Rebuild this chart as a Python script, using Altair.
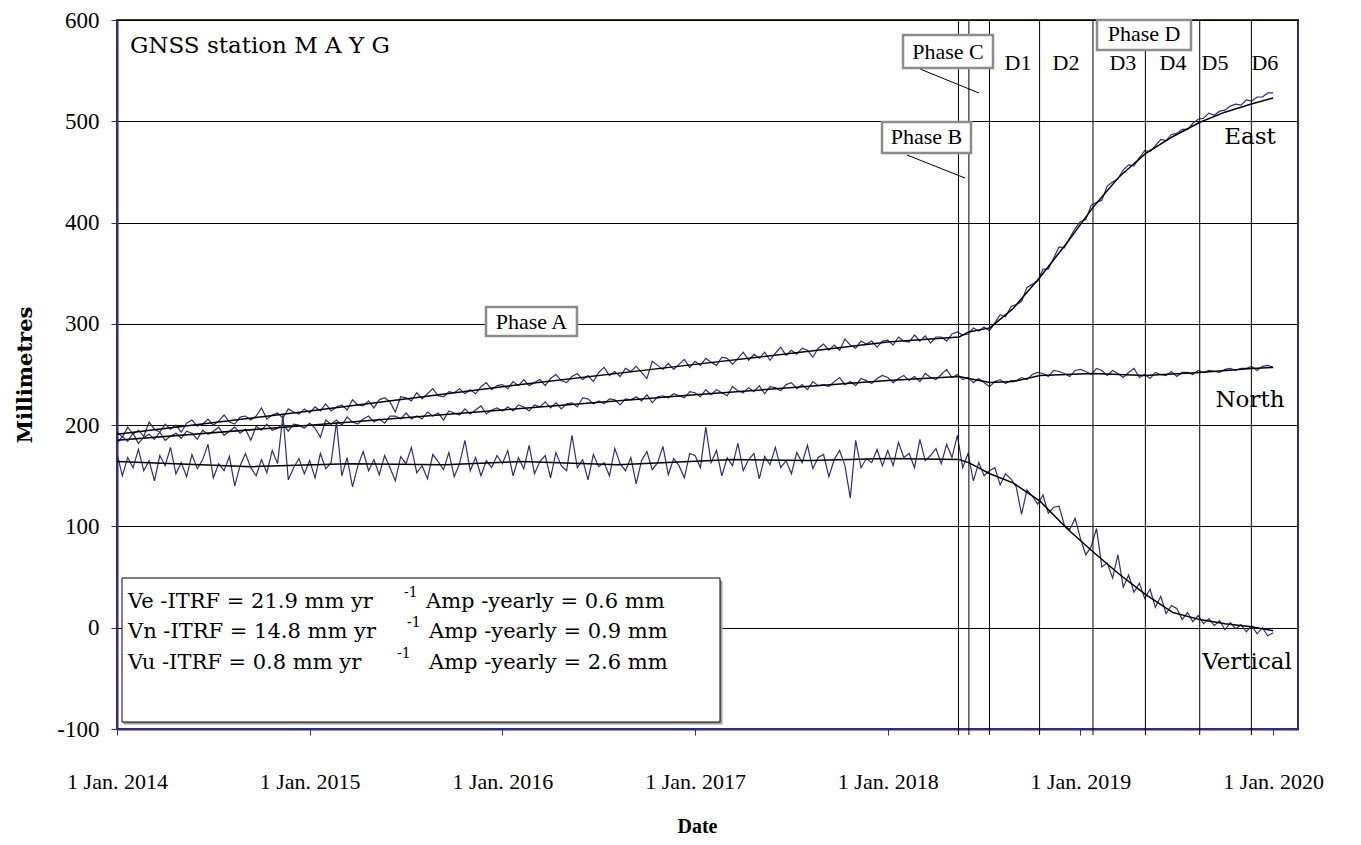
import altair as alt
import pandas as pd

# ---------------- data ----------------
# observation epochs: every 1/36 year from 1 Jan 2014 to 1 Jan 2020
epochs = [round(2014 + i / 36, 4) for i in range(217)]

east_2014 = [194,188,198,191,195,189,203,196,193,201,196,200,193,202,205,199,201,206,200,204,
             210,203,201,208,209,205,209,217,206,210,212,207,216,213,211,216]
east_2015 = [212,218,214,221,214,218,220,215,225,220,219,224,217,225,227,223,213,228,227,224,
             232,226,231,236,229,228,233,232,236,231,235,231,238,242,235,239]
east_2016 = [240,236,243,239,245,239,242,245,239,246,250,244,242,248,251,245,249,243,252,257,
             249,253,248,256,253,258,252,246,263,259,255,261,255,260,265,257]
east_2017 = [263,259,266,262,259,267,266,260,266,272,264,270,266,272,264,271,277,269,274,270,
             276,274,267,276,280,274,279,274,285,279,276,283,280,283,277,283]
east_2018 = [284,279,287,283,282,289,283,288,281,287,287,283,290,292,289,290,296,293,297,293,
             301,309,307,317,319,322,336,339,342,354,354,365,376,375,385,394]
east_2019 = [401,403,417,420,422,436,440,443,452,457,456,464,471,470,476,482,481,487,488,492,
             492,498,502,503,508,506,510,511,515,517,516,521,520,524,524,528,528]

north_2014 = [182,189,184,192,182,188,191,186,193,185,189,192,187,194,192,186,195,191,194,198,
              190,194,198,192,196,185,199,195,201,195,197,201,194,201,200,197]
north_2015 = [202,197,188,205,201,205,200,208,203,201,206,209,203,206,202,209,209,206,212,206,
              209,206,213,209,212,205,214,212,210,216,211,215,219,211,215,217]
north_2016 = [214,218,214,220,218,214,220,218,223,217,222,216,221,222,218,227,226,221,224,221,
              226,225,220,226,225,228,224,230,222,228,229,227,231,229,227,233]
north_2017 = [232,228,235,230,235,232,229,238,234,232,237,233,239,231,238,237,234,240,242,236,
              240,235,243,239,240,238,243,247,240,243,239,246,244,241,246,249]
north_2018 = [247,242,246,249,244,248,243,251,247,245,250,255,247,250,245,247,242,246,242,238,
              243,245,241,244,244,247,245,250,252,251,248,254,253,251,248,254]
north_2019 = [255,253,250,256,254,249,254,251,247,252,256,247,250,246,252,250,249,253,248,252,
              252,250,254,252,254,253,252,255,256,254,256,256,258,254,258,259,257]

vert_2014 = [172,150,168,158,176,155,165,145,170,160,178,152,163,149,171,157,166,181,148,162,
             155,169,140,160,172,158,150,166,153,175,162,210,146,158,167,152]
vert_2015 = [165,148,172,157,163,203,150,168,139,160,174,155,166,151,170,158,145,169,162,178,
             153,160,147,171,164,156,173,149,162,185,155,168,150,165,158,170]
vert_2016 = [162,175,150,168,157,180,152,164,170,148,173,160,155,190,158,166,146,171,159,163,
             150,177,162,155,168,142,165,174,156,163,179,151,167,160,148,172]
vert_2017 = [170,158,198,163,175,150,168,160,182,155,166,172,147,169,161,178,158,165,152,173,
             163,180,157,168,171,149,166,175,160,128,185,158,167,163,176,160]
vert_2018 = [175,160,183,168,172,158,186,165,170,177,162,181,168,190,158,172,145,163,150,155,
             158,141,152,147,139,112,136,130,122,131,113,119,120,101,97,108]
vert_2019 = [88,72,80,98,60,64,49,72,40,52,35,44,29,38,20,31,14,22,19,8,
             15,6,12,4,9,2,7,-2,5,-1,3,-4,2,-6,0,-8,-5]

east_obs = east_2014 + east_2015 + east_2016 + east_2017 + east_2018 + east_2019
north_obs = north_2014 + north_2015 + north_2016 + north_2017 + north_2018 + north_2019
vert_obs = vert_2014 + vert_2015 + vert_2016 + vert_2017 + vert_2018 + vert_2019

# model (trajectory) curves, read at knots
east_model_t = [2014.0, 2015.0, 2016.0, 2017.0, 2018.0, 2018.37, 2018.42, 2018.53, 2018.65,
                2018.79, 2018.93, 2019.065, 2019.2, 2019.337, 2019.48, 2019.62, 2019.75,
                2019.887, 2020.0]
east_model = [191, 214, 238, 260, 282, 287, 292, 296, 315, 346, 380, 415, 445, 468, 485, 499,
              509, 517, 523]
north_model_t = [2014.0, 2015.0, 2016.0, 2017.0, 2018.0, 2018.37, 2018.42, 2018.53, 2018.65,
                 2018.79, 2019.065, 2019.337, 2019.62, 2019.887, 2020.0]
north_model = [185, 200, 215, 230, 244, 248, 246, 242, 243, 249, 251, 249, 252, 256, 257]
vert_model_t = [2014.0, 2014.3, 2014.7, 2015.2, 2015.7, 2016.1, 2016.6, 2017.2, 2017.6, 2018.0,
                2018.37, 2018.42, 2018.53, 2018.65, 2018.79, 2018.93, 2019.065, 2019.2,
                2019.337, 2019.48, 2019.62, 2019.75, 2019.887, 2020.0]
vert_model = [164, 162, 159, 162, 161, 164, 161, 166, 165, 167, 166, 163, 152, 143, 125, 98,
              75, 53, 33, 15, 8, 4, 1, -3]

# phase boundaries (vertical lines)
phase_lines = [2018.367, 2018.421, 2018.528, 2018.788, 2019.065, 2019.337, 2019.619, 2019.887]
d_labels = ["D1", "D2", "D3", "D4", "D5", "D6"]
d_label_t = [2018.676, 2018.925, 2019.22, 2019.48, 2019.698, 2019.957]

year_ticks = [2014, 2015, 2016, 2017, 2018, 2019, 2020]
mm_ticks = [-100, 0, 100, 200, 300, 400, 500, 600]

legend_left = ["Ve -ITRF = 21.9 mm yr", "Vn -ITRF = 14.8 mm yr", "Vu -ITRF =  0.8 mm yr"]
legend_right = ["Amp -yearly = 0.6 mm", "Amp -yearly = 0.9 mm", "Amp -yearly = 2.6 mm"]

# ---------------- tables ----------------
rows = []
for comp, vals in (("East", east_obs), ("North", north_obs), ("Vertical", vert_obs)):
    for t, v in zip(epochs, vals):
        rows.append({"t": t, "mm": v, "comp": comp})
obs = pd.DataFrame(rows)

mrows = []
for comp, ts, vals in (("East", east_model_t, east_model), ("North", north_model_t, north_model),
                       ("Vertical", vert_model_t, vert_model)):
    for t, v in zip(ts, vals):
        mrows.append({"t": t, "mm": v, "comp": comp})
model = pd.DataFrame(mrows)

# ---------------- styling ----------------
FONT = "Liberation Serif"
WIDE = "DejaVu Serif"
NAVY = "#2E2E7A"
W, H = 1181, 709
xs = alt.Scale(domain=[2014, 2020.129], nice=False, zero=False)
ys = alt.Scale(domain=[-100, 600], nice=False, zero=False)
dummy = pd.DataFrame({"a": [0]})

x_axis = alt.Axis(
    values=year_ticks, labelExpr="'1 Jan. ' + datum.value", title="Date", grid=False,
    labelFontSize=22, tickSize=6, labelPadding=36, titleFontSize=20, titlePadding=24,
    titleFontWeight="bold", labelFlush=False, labelOverlap=False, domainWidth=2,
    titleX=580, labelFont=FONT, titleFont=FONT)
y_axis = alt.Axis(
    values=mm_ticks, title="Millimetres", grid=True, gridColor="black", gridWidth=1,
    labelExpr="datum.value < 0 ? '-' + abs(datum.value) : '' + datum.value",
    labelFontSize=23, tickSize=6, labelPadding=12, titleFontSize=21,
    titleFontWeight="bold", titlePadding=21, labelFlush=False, domainWidth=2,
    labelFont=FONT, titleFont=WIDE)
X = alt.X("t:Q", scale=xs, axis=x_axis)
Y = alt.Y("mm:Q", scale=ys, axis=y_axis)

obs_line = alt.Chart(obs).mark_line(color=NAVY, strokeWidth=1.2).encode(
    x=X, y=Y, detail="comp:N")

model_line = alt.Chart(model).mark_line(color="black", strokeWidth=1.5).encode(
    x=X, y=Y, detail="comp:N")

rules = alt.Chart(pd.DataFrame({"t": phase_lines})).mark_rule(color="black", strokeWidth=1).encode(
    x=X, y=alt.value(0), y2=alt.value(H + 6))

dtext = alt.Chart(pd.DataFrame({"t": d_label_t, "label": d_labels})).mark_text(
    font=FONT, fontSize=22, color="black", align="center", baseline="middle").encode(
    x=X, y=alt.value(43), text="label:N")


def txt(s, x, y, size=22, align="left", font=FONT):
    return alt.Chart(dummy).mark_text(font=font, fontSize=size, color="black", align=align,
                                      baseline="middle").encode(
        x=alt.value(x), y=alt.value(y), text=alt.value(s))


def box(x1, y1, x2, y2, stroke="#8C8C8C", sw=2.5, fill="white"):
    return alt.Chart(dummy).mark_rect(fill=fill, stroke=stroke, strokeWidth=sw).encode(
        x=alt.value(x1), x2=alt.value(x2), y=alt.value(y1), y2=alt.value(y2))


def seg(x1, y1, x2, y2):
    return alt.Chart(dummy).mark_rule(color="black", strokeWidth=1).encode(
        x=alt.value(x1), x2=alt.value(x2), y=alt.value(y1), y2=alt.value(y2))


layers = [obs_line, rules, model_line, dtext]

# phase annotation boxes
layers += [box(369, 287, 460, 316), txt("Phase A", 414.5, 302, 22, "center")]
layers += [seg(790, 135, 848, 158), box(765, 102, 854, 133), txt("Phase B", 809.5, 117, 22, "center")]
layers += [seg(803, 49, 862, 73), box(786, 15, 876, 48), txt("Phase C", 831, 32, 22, "center")]
layers += [box(980, 0, 1074, 30), txt("Phase D", 1027, 14, 22, "center")]

# component labels and station name
layers += [txt("GNSS station M A Y G", 13, 26, 23, font=WIDE)]
layers += [txt("East", 1133, 117, 23, "center", WIDE), txt("North", 1133, 380, 23, "center", WIDE),
           txt("Vertical", 1130, 642, 23, "center", WIDE)]

# parameter box
layers += [box(7, 561, 605, 704, stroke="#A0A0A0", sw=1, fill="#A0A0A0"),
           box(5, 558, 603, 702, stroke="black", sw=1)]
line_y = [582, 612, 643]
sup_x = [287, 290, 280]
amp_x = [309, 312, 312]
for i in range(3):
    layers += [txt(legend_left[i], 11, line_y[i], 21, font=WIDE),
               txt("-1", sup_x[i], line_y[i] - 9, 14, font=WIDE),
               txt(legend_right[i], amp_x[i], line_y[i], 21, font=WIDE)]

chart = alt.layer(*layers).properties(
    width=W, height=H,
    padding={"left": 109, "top": 12, "right": 50, "bottom": 112},
    autosize=alt.AutoSizeParams(type="none"),
    background="white",
).configure_view(stroke=NAVY, strokeWidth=2).configure_axis(
    labelColor="black", titleColor="black", domainColor=NAVY, tickColor=NAVY,
)

chart.save("out.html", embed_options={"renderer": "svg", "actions": False})
